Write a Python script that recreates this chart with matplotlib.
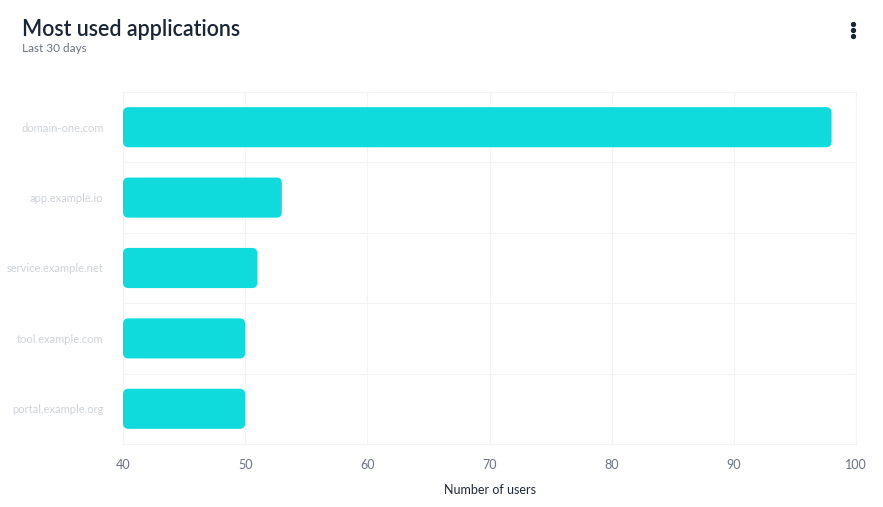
import matplotlib
matplotlib.use("Agg")
import matplotlib.pyplot as plt
from matplotlib.patches import FancyBboxPatch
from matplotlib.lines import Line2D

apps = ["domain-one.com", "app.example.io", "service.example.net", "tool.example.com", "portal.example.org"]
users = [98, 53, 51, 50, 50]
xticks = [40, 50, 60, 70, 80, 90, 100]

W, H = 883, 507
fig = plt.figure(figsize=(W/100, H/100), dpi=100)
fig.patch.set_facecolor("white")
plt.rcParams['font.family'] = ['Lato', 'DejaVu Sans']

x0, x1, yt, yb = 123, 856, 92, 444
ax = fig.add_axes([x0/W, 1-yb/H, (x1-x0)/W, (yb-yt)/H])

n = len(apps)
ypos = list(range(n))
bars = ax.barh(ypos, [u-40 for u in users], left=40, height=0.57, color="#10dbdc")
ax.set_xlim(40, 100)
ax.set_ylim(n-0.5, -0.5)

# rounded bars
px_x = (x1-x0)/60.0
px_y = (yb-yt)/n
for r in bars:
    r.set_visible(False)
    fb = FancyBboxPatch((r.get_x(), r.get_y()), r.get_width(), r.get_height(),
                        boxstyle="round,pad=0,rounding_size=0.45",
                        mutation_aspect=px_x/px_y, fc="#10dbdc", ec="none", zorder=3)
    ax.add_patch(fb)

ax.set_xticks(xticks)
ax.set_xticklabels([str(t) for t in xticks], color="#6b7280", fontsize=9)
ax.set_yticks([y for y in ypos])
ax.set_yticklabels(apps, color="#cfd3d8", fontsize=8)
ax.set_yticks([y+0.5 for y in ypos[:-1]], minor=True)
ax.tick_params(axis='both', which='both', length=0)
ax.tick_params(axis='x', pad=11)
ax.tick_params(axis='y', pad=14)
ax.grid(True, axis='x', color="#f3f3f3", lw=0.8, zorder=0)
ax.grid(True, axis='y', which='minor', color="#f3f3f3", lw=0.8, zorder=0)
ax.grid(False, axis='y', which='major')
for s in ax.spines.values():
    s.set_visible(True)
    s.set_color("#f3f3f3")
    s.set_linewidth(0.8)
ax.set_axisbelow(True)
ax.set_xlabel("Number of users", color="#1f2937", fontsize=9, labelpad=9)

fig.text(22/W, 1-29/H, "Most used applications", fontsize=15.5, fontweight="semibold",
         color="#1a2638", va="center", ha="left")
fig.text(22/W, 1-48/H, "Last 30 days", fontsize=8.5, color="#6b7280", va="center", ha="left")

for yy in (24, 30, 36):
    fig.add_artist(Line2D([853/W], [1-yy/H], marker='o', markersize=2.8, color="#1a2638",
                          transform=fig.transFigure))

fig.savefig("out.png", dpi=100)
